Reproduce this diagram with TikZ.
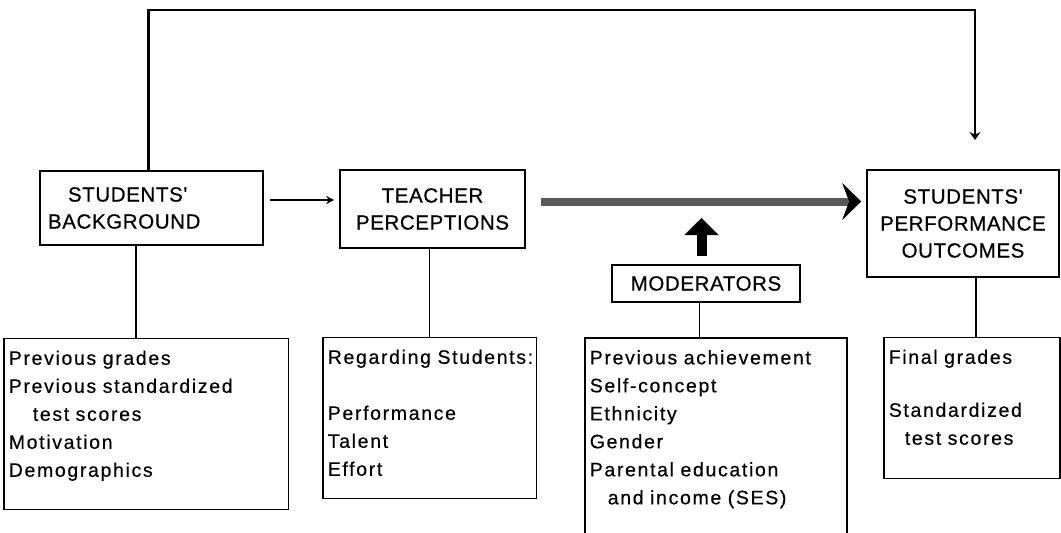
\documentclass[tikz,border=0pt]{standalone}
\usepackage{fontspec}
\setmainfont{Liberation Sans}
\newfontfamily\headfont[LetterSpace=3,FakeBold=0.6]{Liberation Sans}
\newfontfamily\listfont[LetterSpace=8.5,FakeBold=0.4]{Liberation Sans}
\usetikzlibrary{arrows.meta}
\begin{document}
\begin{tikzpicture}[x=1pt,y=-1pt,
    headbox/.style={draw,line width=1.6pt,align=center,inner sep=0pt,
      font=\headfont\fontsize{20.5}{27}\selectfont},
    listbox/.style={draw,line width=1.6pt,anchor=north west,align=left,
      inner xsep=5pt,inner ysep=3pt,text height=23.5pt,
      font=\listfont\fontsize{19.5}{28}\selectfont},
    link/.style={line width=1.8pt},
    feedback/.style={line width=2.2pt,-{Stealth[length=8pt,width=11pt]}},
    thickarrow/.style={line width=8pt,draw=black!65,shorten <=15.5pt,shorten >=5pt,
      -{Stealth[length=19pt,width=37pt,inset=7pt,line width=0.5pt,color=black]}},
    modarrow/.style={line width=10pt,shorten <=8pt,
      -{Triangle[length=17pt,width=34pt,line width=0.5pt]}}]
    \useasboundingbox (0,0) rectangle (1061,533);

    \node[headbox,text width=207pt,inner xsep=8pt,align=left,minimum height=74pt] (bg) at (151.5,208)
        {\hspace*{20pt}STUDENTS'\\BACKGROUND};
    \node[headbox,minimum width=185pt,minimum height=78pt] (tp) at (432.5,209) {TEACHER\\PERCEPTIONS};
    \node[headbox,minimum width=192pt,minimum height=107pt] (perf) at (963,223.5)
        {STUDENTS'\\PERFORMANCE\\OUTCOMES};
    \node[headbox,minimum width=188pt,minimum height=37pt] (mod) at (706,283.5) {MODERATORS};

    \node[listbox,text width=274.5pt,text depth=141.8pt] (bgl) at (3,337.5)
        {Previous grades\\Previous standardized\\\hspace*{24pt}test scores\\Motivation\\Demographics};
    \node[listbox,text width=203.5pt,text depth=131.8pt] (tpl) at (322,336.5)
        {Regarding~Students:\\[28pt]Performance\\Talent\\Effort};
    \node[listbox,text width=252pt,text depth=180pt] (modl) at (584,337)
        {Previous achievement\\Self-concept\\Ethnicity\\Gender\\Parental education\\\hspace*{18pt}and income (SES)};
    \node[listbox,text width=166pt,text depth=111.8pt] (perfl) at (883,336.5)
        {Final grades\\[25pt]Standardized\\\hspace*{16pt}test scores};

    \coordinate (fbtop) at (975,10);
    \coordinate (fbtip) at (975,140);
    \coordinate (modtip) at (701.5,218);

    \draw[feedback] ([xshift=-3pt]bg.north) |- (fbtop) -- (fbtip);
    \draw[link,line width=2.2pt,-{Stealth[length=8pt,width=8pt]},shorten <=6pt,shorten >=5pt]
        ([yshift=8pt]bg.east) -- ([yshift=8pt]bg.east -| tp.west);
    \draw[thickarrow] ([yshift=7.5pt]tp.east) -- ([yshift=7.5pt]tp.east -| perf.west);
    \draw[modarrow] ([xshift=-4.5pt]mod.north) -- (modtip);

    \draw[link] ([xshift=-15.5pt]bg.south) -- ([xshift=-15.5pt]bg.south |- bgl.north);
    \draw[link] ([xshift=-3pt]tp.south) -- ([xshift=-3pt]tp.south |- tpl.north);
    \draw[link] ([xshift=-6.5pt]mod.south) -- ([xshift=-6.5pt]mod.south |- modl.north);
    \draw[link] ([xshift=13pt]perf.south) -- ([xshift=13pt]perf.south |- perfl.north);
\end{tikzpicture}
\end{document}
